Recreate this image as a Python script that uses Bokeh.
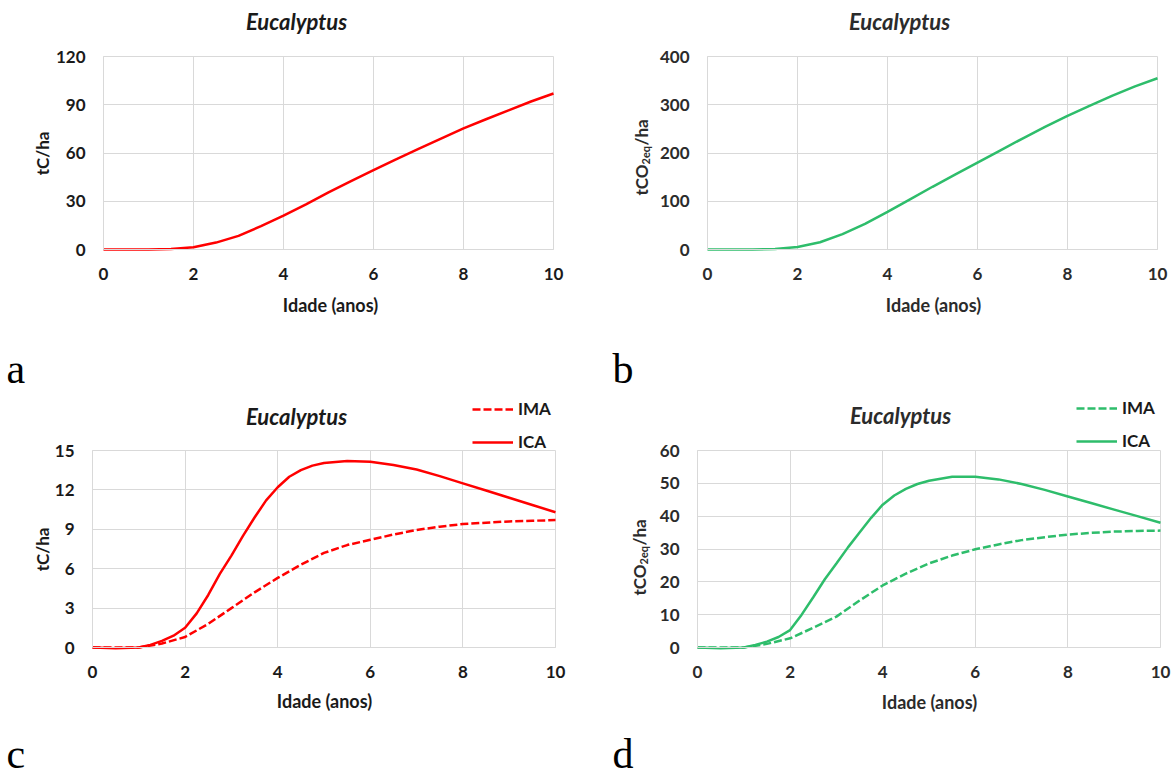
from math import pi
from bokeh.plotting import figure
from bokeh.models import Range1d, Label, Legend, LegendItem, FixedTicker
from bokeh.layouts import row, column
from bokeh.embed import file_html
from bokeh.resources import INLINE

# ---------------- data ----------------
AGE = [0, 0.5, 1, 1.5, 2, 2.5, 3, 3.5, 4, 4.5, 5, 5.5, 6, 6.5, 7, 7.5, 8, 8.5, 9, 9.5, 10]
CARBON = [0, 0, 0, 0.3, 1.4, 4.3, 8.5, 14.5, 21, 28, 35.5, 42.5, 49.3, 56, 62.5, 69, 75.3, 81, 86.5, 92, 97]
CO2 = [0, 0, 0, 1, 5, 15, 32, 53, 78, 104, 130, 155, 180, 205, 230, 254, 277, 298, 319, 338, 355]

AGE_ICA = [0, 0.5, 1, 1.25, 1.5, 1.75, 2, 2.25, 2.5, 2.75, 3, 3.25, 3.5, 3.75, 4, 4.25, 4.5,
           4.75, 5, 5.5, 6, 6.5, 7, 7.5, 8, 8.5, 9, 9.5, 10]
ICA_C = [0, -0.05, 0, 0.2, 0.5, 0.9, 1.5, 2.6, 4.0, 5.6, 7.0, 8.5, 9.9, 11.2, 12.2, 13.0, 13.5,
         13.85, 14.05, 14.2, 14.15, 13.9, 13.55, 13.05, 12.5, 11.95, 11.4, 10.85, 10.3]
ICA_CO2 = [0, -0.2, 0, 0.8, 1.8, 3.2, 5.3, 10, 15.3, 20.8, 25.6, 30.5, 35, 39.5, 43.5, 46.3, 48.3,
           49.8, 50.8, 52, 52, 51.2, 49.8, 48, 46, 44, 42, 40, 38]
IMA_C = [0, 0, 0, 0.3, 0.8, 1.8, 3.0, 4.2, 5.3, 6.3, 7.2, 7.8, 8.2, 8.6, 8.95, 9.2, 9.4, 9.5, 9.6, 9.65, 9.7]
IMA_CO2 = [0, 0, 0, 1.1, 2.8, 6, 9.4, 14.3, 18.9, 22.5, 25.6, 28, 29.9, 31.4, 32.7, 33.6, 34.4, 34.9, 35.3, 35.5, 35.6]

X_TICKS = [0, 2, 4, 6, 8, 10]
Y_TICKS_A = [0, 30, 60, 90, 120]
Y_TICKS_B = [0, 100, 200, 300, 400]
Y_TICKS_C = [0, 3, 6, 9, 12, 15]
Y_TICKS_D = [0, 10, 20, 30, 40, 50, 60]

TITLE = "Eucalyptus"
X_LABEL = "Idade (anos)"
Y_LABEL_C = "tC/ha"
LEGEND_LABELS = ["IMA", "ICA"]
PANEL_LETTERS = ["a", "b", "c", "d"]

RED = "#FF0000"
GREEN = "#2EBD6B"
GRID = "#D9D9D9"
DARK = "#1A1A1A"
DARK_B = "#2B2B2B"
FONT = "Lato"
SERIF = "Liberation Serif"


class Geo:
    """Pixel geometry of one panel: figure size and plot-area box (y downwards)."""
    def __init__(self, width, height, left, top, fw, fh, ymax):
        self.width, self.height = width, height
        self.left, self.top, self.fw, self.fh, self.ymax = left, top, fw, fh, ymax

    def x(self, px):
        return (px - self.left) / self.fw * 10.0

    def y(self, py):
        return (self.top + self.fh - py) / self.fh * self.ymax


def make_panel(g, yticks, text_color):
    p = figure(frame_width=g.width, frame_height=g.height,
               min_border=0, min_border_left=0, min_border_right=0,
               min_border_top=0, min_border_bottom=0,
               x_range=Range1d(g.x(0), g.x(g.width)),
               y_range=Range1d(g.y(g.height), g.y(0)),
               output_backend="svg", toolbar_location=None)
    p.outline_line_color = None
    p.xaxis.ticker = FixedTicker(ticks=X_TICKS)
    p.yaxis.ticker = FixedTicker(ticks=yticks)
    p.xaxis.fixed_location = 0
    p.yaxis.fixed_location = 0
    p.xaxis.bounds = (0, 10)
    p.yaxis.bounds = (0, g.ymax)
    p.grid.grid_line_color = GRID
    p.grid.grid_line_width = 1
    try:
        p.xgrid.cross_bounds = (0, g.ymax)
        p.ygrid.cross_bounds = (0, 10)
    except AttributeError:
        pass
    p.axis.axis_line_color = GRID
    p.axis.major_tick_line_color = None
    p.axis.minor_tick_line_color = None
    p.axis.major_tick_out = 0
    p.axis.major_tick_in = 0
    p.axis.minor_tick_out = 0
    p.axis.major_label_text_font = FONT
    p.axis.major_label_text_font_style = "bold"
    p.axis.major_label_text_font_size = "17px"
    p.axis.major_label_text_color = text_color
    p.xaxis.major_label_standoff = 18
    p.yaxis.major_label_standoff = 18
    p.background_fill_color = "white"
    p.border_fill_color = "white"
    return p


def add_text(p, g, px, py, text, color, size="18px", style="bold", angle=0.0,
             align="center", baseline="middle", font=FONT):
    p.add_layout(Label(x=g.x(px), y=g.y(py), text=text, text_font=font,
                       text_font_style=style, text_font_size=size, angle=angle,
                       text_color=color, text_align=align, text_baseline=baseline))


def decorate(p, g, title_xy, xlabel_xy, letter_xy, letter, color):
    add_text(p, g, title_xy[0], title_xy[1], TITLE, color, size="22px", style="bold italic")
    add_text(p, g, xlabel_xy[0], xlabel_xy[1], X_LABEL, color, size="18px")
    add_text(p, g, letter_xy[0], letter_xy[1], letter, "#000000", size="42px",
             style="normal", align="left", baseline="bottom", font=SERIF)


def add_co2_ylabel(p, g, cx, cy, color):
    # tCO2eq/ha written vertically, with "2eq" as a subscript
    join = cy + 7  # screen y where "tCO" ends and the subscript starts
    add_text(p, g, cx, join, "tCO", color, size="17px", angle=pi / 2, align="right")
    add_text(p, g, cx + 4, join, "2eq", color, size="11px", angle=pi / 2, align="left")
    add_text(p, g, cx, join - 19, "/ha", color, size="17px", angle=pi / 2, align="left")


def add_legend(p, g, r_ima, r_ica, line_left, top):
    leg = Legend(items=[LegendItem(label=LEGEND_LABELS[0], renderers=[r_ima]),
                        LegendItem(label=LEGEND_LABELS[1], renderers=[r_ica])],
                 location=(line_left, g.height - top - 52),
                 glyph_width=41, glyph_height=20, label_height=20, spacing=12,
                 padding=0, margin=0, label_standoff=5,
                 background_fill_alpha=0, border_line_alpha=0,
                 label_text_font=FONT, label_text_font_style="bold",
                 label_text_font_size="17px", label_text_color=DARK)
    p.add_layout(leg)


# ---- panel a (page origin 0,0) ----
ga = Geo(590, 394, 103, 56, 450, 193, 120)
pa = make_panel(ga, Y_TICKS_A, DARK)
pa.line(AGE, CARBON, line_color=RED, line_width=2.5)
decorate(pa, ga, (296, 21), (330, 304), (6, 391), PANEL_LETTERS[0], DARK)
add_text(pa, ga, 41.5, 153, Y_LABEL_C, DARK, size="17px", angle=pi / 2)

# ---- panel b (page origin 590,0) ----
gb = Geo(581, 394, 117, 56, 450, 193, 400)
pb = make_panel(gb, Y_TICKS_B, DARK_B)
pb.line(AGE, CO2, line_color=GREEN, line_width=2.5)
decorate(pb, gb, (309, 21), (343, 304), (22, 391), PANEL_LETTERS[1], DARK_B)
add_co2_ylabel(pb, gb, 51, 157, DARK_B)

# ---- panel c (page origin 0,394) ----
gc = Geo(590, 382, 92, 56, 463, 197, 15)
pc = make_panel(gc, Y_TICKS_C, DARK)
r1 = pc.line(AGE, IMA_C, line_color=RED, line_width=2.5, line_dash="8 3")
r2 = pc.line(AGE_ICA, ICA_C, line_color=RED, line_width=2.5)
decorate(pc, gc, (296, 22), (324, 306), (6, 382), PANEL_LETTERS[2], DARK)
add_text(pc, gc, 41.5, 155, Y_LABEL_C, DARK, size="17px", angle=pi / 2)
add_legend(pc, gc, r1, r2, 472, 6)

# ---- panel d (page origin 590,394) ----
gd = Geo(581, 382, 107, 56, 463, 197, 60)
pd_ = make_panel(gd, Y_TICKS_D, DARK_B)
r3 = pd_.line(AGE, IMA_CO2, line_color=GREEN, line_width=2.5, line_dash="8 3")
r4 = pd_.line(AGE_ICA, ICA_CO2, line_color=GREEN, line_width=2.5)
decorate(pd_, gd, (310, 21), (339, 307), (22, 382), PANEL_LETTERS[3], DARK_B)
add_co2_ylabel(pd_, gd, 49, 163, DARK_B)
add_legend(pd_, gd, r3, r4, 486, 5)

layout = column(row(pa, pb), row(pc, pd_))

with open("out.html", "w") as f:
    f.write(file_html(layout, INLINE))
